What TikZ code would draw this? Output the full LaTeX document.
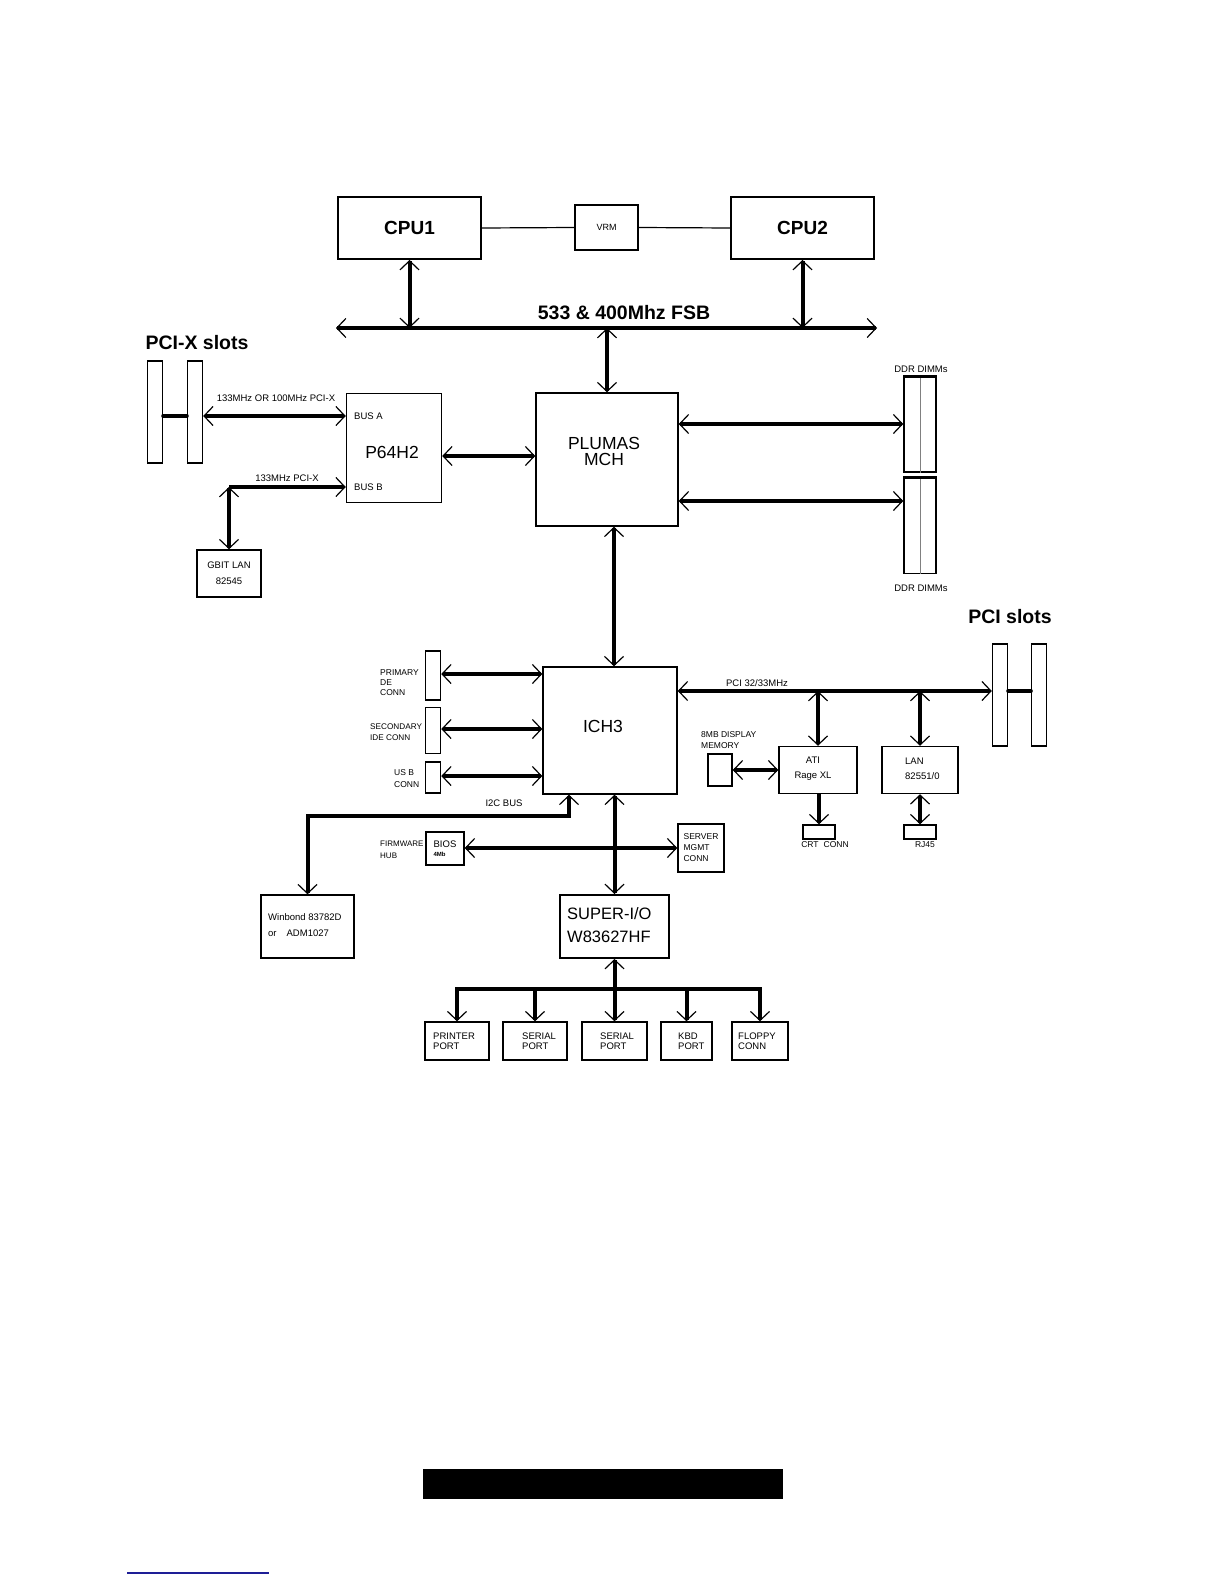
\documentclass[tikz,border=0pt]{standalone}
\usepackage{fontspec}
\setmainfont{Liberation Sans}
\usetikzlibrary{arrows.meta}
\definecolor{linkblue}{RGB}{30,30,150}

\begin{document}
\begin{tikzpicture}[x=1pt, y=-1pt,
		>={Straight Barb[length=9pt, width=19pt, line width=1.2pt]},
		box/.style={draw, line width=1.5pt, inner sep=0pt},
		bigbox/.style={draw, line width=2pt, inner sep=0pt},
		slot/.style={draw, line width=1.4pt, minimum width=15pt, minimum height=102pt},
		bus/.style={line width=4pt},
		lbl/.style={inner sep=0pt, align=left, font=\fontsize{9.5}{10}\selectfont},
		heading/.style={inner sep=0pt, font=\fontsize{19.5}{20}\selectfont\bfseries},
		chip/.style={inner sep=0pt, align=left, font=\fontsize{17.5}{16}\selectfont}]
	\useasboundingbox (0,0) rectangle (1224,1584);

	% processors and front side bus
	\node[bigbox, minimum width=143pt, minimum height=62pt, font=\fontsize{19}{20}\selectfont\bfseries] (cpua) at (409.5,228) {CPU1};
	\node[bigbox, minimum width=143pt, minimum height=62pt, font=\fontsize{19}{20}\selectfont\bfseries] (cpub) at (802.5,228) {CPU2};
	\node[box, minimum width=63pt, minimum height=45pt, font=\fontsize{9}{10}\selectfont] (vrm) at (606.5,227.5) {VRM};
	\draw[line width=1.2pt] (cpua.east) -- (vrm.west);
	\draw[line width=1.2pt] (vrm.east) -- (cpub.west);
	\coordinate (fsbl) at (336,328);
	\coordinate (fsbr) at (877,328);
	\node[heading] (tfsb) at (624,313) {533 \& 400Mhz FSB};
	\draw[bus,<->] (fsbl) -- (fsbr);
	\draw[bus,<->] (cpua.south) -- (cpua.south |- fsbl);
	\draw[bus,<->] (cpub.south) -- (cpub.south |- fsbl);

	% memory controller hub
	\node[box, minimum width=142pt, minimum height=133pt] (mch) at (607,459.5) {};
	\node[chip, align=center] (tmch) at (604,451) {PLUMAS\\MCH};
	\draw[bus,<->] (mch.north |- fsbl) -- (mch.north);
	\node[box, minimum width=32pt, minimum height=95pt] (dima) at (920,424.5) {};
	\node[box, minimum width=32pt, minimum height=95pt] (dimb) at (920,526) {};
	\foreach \d in {dima,dimb} {
		\draw[gray, line width=1pt] (\d.north) -- (\d.south);
		\draw[line width=3pt] (\d.north west) -- (\d.north east);
	}
	\node[lbl] (tdima) at (921,369) {DDR DIMMs};
	\node[lbl] (tdimb) at (921,588) {DDR DIMMs};
	\draw[bus,<->] (mch.east |- 0,424) -- (dima.west |- 0,424);
	\draw[bus,<->] (mch.east |- 0,501) -- (dimb.west |- 0,501);

	% PCI-X bridge
	\node[heading] (tpcix) at (197,343) {PCI-X slots};
	\node[slot] (pcxa) at (155,412) {};
	\node[slot] (pcxb) at (195,412) {};
	\node[box, minimum width=95pt, minimum height=109pt] (p64) at (394,448) {};
	\node[chip] (tp64) at (392,452) {P64H2};
	\node[lbl, anchor=west] (busa) at (354,416) {BUS A};
	\node[lbl, anchor=west] (busb) at (354,487) {BUS B};
	\node[lbl] (tpcxa) at (276,398) {133MHz OR 100MHz PCI-X};
	\node[lbl] (tpcxb) at (287,478) {133MHz PCI-X};
	\draw[bus, line cap=round] (pcxa.east |- 0,416) -- (pcxb.west |- 0,416);
	\draw[bus,<->] (pcxb.east |- 0,416) -- (p64.west |- 0,416);
	\node[box, minimum width=64pt, minimum height=47pt, align=center, font=\fontsize{9.5}{16}\selectfont] (gbit) at (229,573.5) {GBIT LAN\\82545};
	\coordinate (lanbend) at (gbit.north |- 0,487);
	\draw[bus,->] (lanbend) -- (p64.west |- lanbend);
	\draw[bus,<->] (lanbend) -- (gbit.north);
	\draw[bus,<->] (p64.east |- 0,456) -- (mch.west |- 0,456);

	% I/O controller hub
	\node[box, minimum width=134pt, minimum height=127pt] (ich) at (610,730.5) {};
	\node[chip] (tich) at (603,726) {ICH3};
	\draw[bus,<->] (mch.south -| 614,0) -- (ich.north -| 614,0);
	\node[box, minimum width=15pt, minimum height=49pt] (idea) at (433,675.5) {};
	\node[box, minimum width=15pt, minimum height=46pt] (ideb) at (433,730.5) {};
	\node[box, minimum width=15pt, minimum height=31pt] (usbc) at (433,777.5) {};
	\node[lbl, anchor=west, font=\fontsize{8.5}{10}\selectfont] (tidea) at (380,683) {PRIMARY\\DE\\CONN};
	\node[lbl, anchor=west, font=\fontsize{8.2}{11}\selectfont] (tideb) at (370,732.5) {SECONDARY\\IDE CONN};
	\node[lbl, anchor=west, font=\fontsize{8.5}{12}\selectfont] (tusbc) at (394,779) {US B\\CONN};
	\draw[bus,<->] (idea.east |- 0,674) -- (ich.west |- 0,674);
	\draw[bus,<->] (ideb.east |- 0,729) -- (ich.west |- 0,729);
	\draw[bus,<->] (usbc.east |- 0,776) -- (ich.west |- 0,776);

	% PCI bus
	\node[heading] (tpci) at (1010,617) {PCI slots};
	\node[slot] (pcia) at (1000,695) {};
	\node[slot] (pcib) at (1039,695) {};
	\node[lbl] (tpcibus) at (757,683) {PCI 32/33MHz};
	\draw[bus,<->] (ich.east |- 0,691) -- (pcia.west |- 0,691);
	\draw[bus, line cap=round] (pcia.east |- 0,691) -- (pcib.west |- 0,691);
	\node[box, minimum width=78pt, minimum height=47pt] (ati) at (818,770) {};
	\node[lbl, align=center, font=\fontsize{9.5}{15}\selectfont] (tati) at (813,769) {ATI\\Rage XL};
	\node[box, minimum width=76pt, minimum height=47pt] (lan) at (920,770) {};
	\node[lbl, anchor=west, font=\fontsize{9.5}{15}\selectfont] (tlan) at (905,769) {LAN\\82551/0};
	\draw[bus,<->] (ati.north) -- (ati.north |- 0,691);
	\draw[bus,<->] (lan.north) -- (lan.north |- 0,691);
	\node[box, minimum width=24pt, minimum height=32pt] (vmem) at (720,770) {};
	\node[lbl, anchor=west, font=\fontsize{8.5}{11}\selectfont] (tvmem) at (701,740) {8MB DISPLAY\\MEMORY};
	\draw[bus,<->] (vmem.east) -- (ati.west |- vmem.east);
	\node[box, minimum width=32pt, minimum height=14pt] (crt) at (819,832) {};
	\node[box, minimum width=32pt, minimum height=14pt] (rj) at (920,832) {};
	\node[lbl, font=\fontsize{8.5}{10}\selectfont] (tcrt) at (825,845) {CRT\hspace{5pt}CONN};
	\node[lbl, font=\fontsize{8.5}{10}\selectfont] (trj) at (925,845) {RJ45};
	\draw[bus,->] (ati.south -| crt.north) -- (crt.north);
	\draw[bus,<->] (lan.south -| rj.north) -- (rj.north);

	% firmware, management, super I/O
	\node[box, minimum width=93pt, minimum height=63pt] (winb) at (307.5,926.5) {};
	\node[lbl, anchor=west, font=\fontsize{9.5}{16}\selectfont] (twinb) at (268,925) {Winbond 83782D\\or\hspace{10pt}ADM1027};
	\node[lbl, above=1pt] (ti2c) at (504,808) {I2C BUS};
	\draw[bus,<->] (ich.south -| 569,0) -- (569,816) -| (winb.north);
	\node[box, minimum width=38pt, minimum height=33pt, align=left, font=\fontsize{9.5}{9}\selectfont] (bios) at (445,848.5) {BIOS\\{\fontsize{6}{6}\selectfont\bfseries 4Mb}};
	\node[lbl, anchor=west, font=\fontsize{8}{12}\selectfont] (tfwh) at (380,850) {FIRMWARE\\HUB};
	\node[box, minimum width=46pt, minimum height=48pt, align=left, font=\fontsize{8.5}{11}\selectfont] (mgmt) at (701,848) {SERVER\\MGMT\\CONN};
	\node[bigbox, minimum width=109pt, minimum height=63pt] (sio) at (614.5,926.5) {};
	\node[lbl, anchor=west, font=\fontsize{16.5}{23}\selectfont] (tsio) at (567,925.5) {SUPER-I/O\\W83627HF};
	\draw[bus,<->] (bios.east |- 0,848) -- (mgmt.west |- 0,848);
	\draw[bus,<->] (ich.south -| sio.north) -- (sio.north);

	% ports on the super I/O
	\node[box, minimum width=64pt, minimum height=38pt] (prn) at (457,1041) {};
	\node[box, minimum width=64pt, minimum height=38pt] (sera) at (535,1041) {};
	\node[box, minimum width=65pt, minimum height=38pt] (serb) at (614.5,1041) {};
	\node[box, minimum width=51pt, minimum height=38pt] (kbd) at (686.5,1041) {};
	\node[box, minimum width=56pt, minimum height=38pt] (flp) at (760,1041) {};
	\node[lbl, anchor=west] (tprn) at (433,1041) {PRINTER\\PORT};
	\node[lbl, anchor=west] (tsera) at (522,1041) {SERIAL\\PORT};
	\node[lbl, anchor=west] (tserb) at (600,1041) {SERIAL\\PORT};
	\node[lbl, anchor=west] (tkbd) at (678,1041) {KBD\\PORT};
	\node[lbl, anchor=west] (tflp) at (738,1041) {FLOPPY\\CONN};
	\coordinate (split) at (sio.south |- 0,989);
	\draw[bus,->] (split) -- (sio.south);
	\foreach \p in {prn,sera,serb,kbd,flp}
		\draw[bus,->] (split) -| (\p.north);

	% page furniture
	\fill (423,1469) rectangle (783,1499);
	\draw[linkblue, line width=1.5pt] (127,1573) -- (269,1573);
\end{tikzpicture}
\end{document}
